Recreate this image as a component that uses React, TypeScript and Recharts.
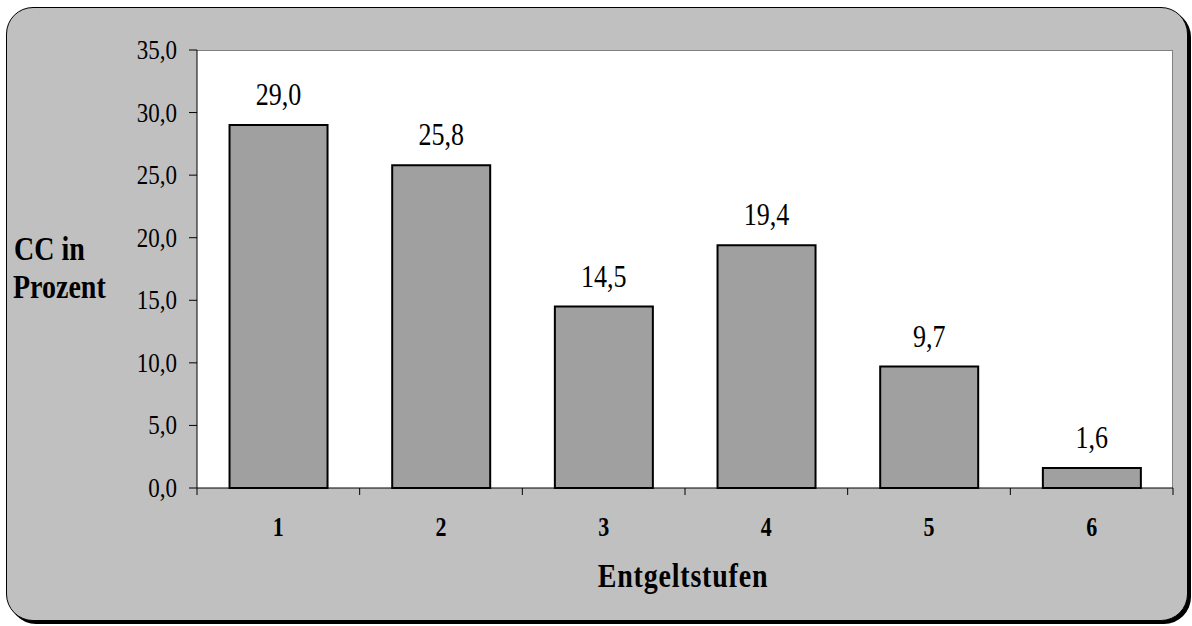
import React from "react";
import { BarChart, Bar, XAxis, YAxis, LabelList } from "recharts";

const categories = ["1", "2", "3", "4", "5", "6"];
const values = [29.0, 25.8, 14.5, 19.4, 9.7, 1.6];
const yTicks = [0, 5, 10, 15, 20, 25, 30, 35];
const yTitleLines = ["CC in", "Prozent"];
const xTitle = "Entgeltstufen";

const data = categories.map((c, i) => ({ cat: c, value: values[i] }));

const FONT = "'Liberation Serif', 'Times New Roman', serif";
const fmt = (v: number) => v.toFixed(1).replace(".", ",");

const YTick = (props: any) => {
  const { x, y, payload } = props;
  return (
    <g transform={`translate(${x},${y}) scale(1,1.15)`}>
      <text x={0} y={0} dy="0.34em" textAnchor="end" fontFamily={FONT} fontSize={23} fill="#000">
        {fmt(payload.value)}
      </text>
    </g>
  );
};

const XTick = (props: any) => {
  const { x, y, payload, index } = props;
  const off = payload && typeof payload.offset === "number" && payload.offset > 0 ? payload.offset : 81.33;
  const axisY = y - 7;
  return (
    <g>
      <line x1={x - off} x2={x - off} y1={axisY} y2={axisY + 7} stroke="#000" strokeWidth={1} />
      {index === categories.length - 1 && (
        <line x1={x + off} x2={x + off} y1={axisY} y2={axisY + 7} stroke="#000" strokeWidth={1} />
      )}
      <g transform={`translate(${x},${axisY + 39}) scale(1,1.2)`}>
        <text x={0} y={0} dy="0.34em" textAnchor="middle" fontFamily={FONT} fontWeight="bold" fontSize={22} fill="#000">
          {payload.value}
        </text>
      </g>
    </g>
  );
};

const ValueLabel = (props: any) => {
  const { x, y, width, value } = props;
  const cx = Number(x) + Number(width) / 2;
  const cy = Number(y) - 31;
  return (
    <g transform={`translate(${cx},${cy}) scale(1,1.25)`}>
      <text x={0} y={0} dy="0.34em" textAnchor="middle" fontFamily={FONT} fontSize={26} fill="#000">
        {fmt(Number(value))}
      </text>
    </g>
  );
};

export default function App() {
  return (
    <div style={{ position: "absolute", left: 0, top: 0, width: 1192, height: 626, background: "#fff", overflow: "hidden" }}>
      <div
        style={{
          position: "absolute",
          left: 6,
          top: 7,
          width: 1182,
          height: 614,
          boxSizing: "border-box",
          border: "1px solid #000",
          borderRadius: 27,
          background: "#C0C0C0",
          boxShadow: "3px 3px 0 #000",
        }}
      />
      <div
        style={{
          position: "absolute",
          left: 197,
          top: 50,
          width: 976,
          height: 438,
          boxSizing: "border-box",
          background: "#fff",
          borderTop: "1px solid #808080",
          borderRight: "1px solid #808080",
        }}
      />
      <div style={{ position: "absolute", left: 0, top: 0 }}>
        <BarChart
          width={1192}
          height={626}
          data={data}
          margin={{ top: 50, right: 19, bottom: 78, left: 117 }}
          barCategoryGap="20%"
        >
          <XAxis
            dataKey="cat"
            height={60}
            axisLine={{ stroke: "#000", strokeWidth: 1 }}
            tickLine={false}
            tickSize={7}
            tickMargin={0}
            interval={0}
            tick={<XTick />}
          />
          <YAxis
            type="number"
            domain={[0, 35]}
            ticks={yTicks}
            width={80}
            interval={0}
            axisLine={{ stroke: "#000", strokeWidth: 1 }}
            tickLine={{ stroke: "#000", strokeWidth: 1 }}
            tickSize={8}
            tickMargin={12}
            tick={<YTick />}
          />
          <Bar dataKey="value" fill="#A0A0A0" stroke="#000" strokeWidth={2} isAnimationActive={false}>
            <LabelList dataKey="value" content={<ValueLabel />} />
          </Bar>
        </BarChart>
      </div>
      <svg width={1192} height={626} style={{ position: "absolute", left: 0, top: 0, pointerEvents: "none" }}>
        <g transform="translate(14,260) scale(1,1.2)">
          <text x={0} y={0} fontFamily={FONT} fontWeight="bold" fontSize={28} fill="#000">{yTitleLines[0]}</text>
        </g>
        <g transform="translate(13,298) scale(1,1.2)">
          <text x={0} y={0} fontFamily={FONT} fontWeight="bold" fontSize={28} fill="#000">{yTitleLines[1]}</text>
        </g>
        <g transform="translate(683,587) scale(1,1.2)">
          <text x={0} y={0} textAnchor="middle" fontFamily={FONT} fontWeight="bold" fontSize={28} letterSpacing={0.8} fill="#000">
            {xTitle}
          </text>
        </g>
      </svg>
    </div>
  );
}
